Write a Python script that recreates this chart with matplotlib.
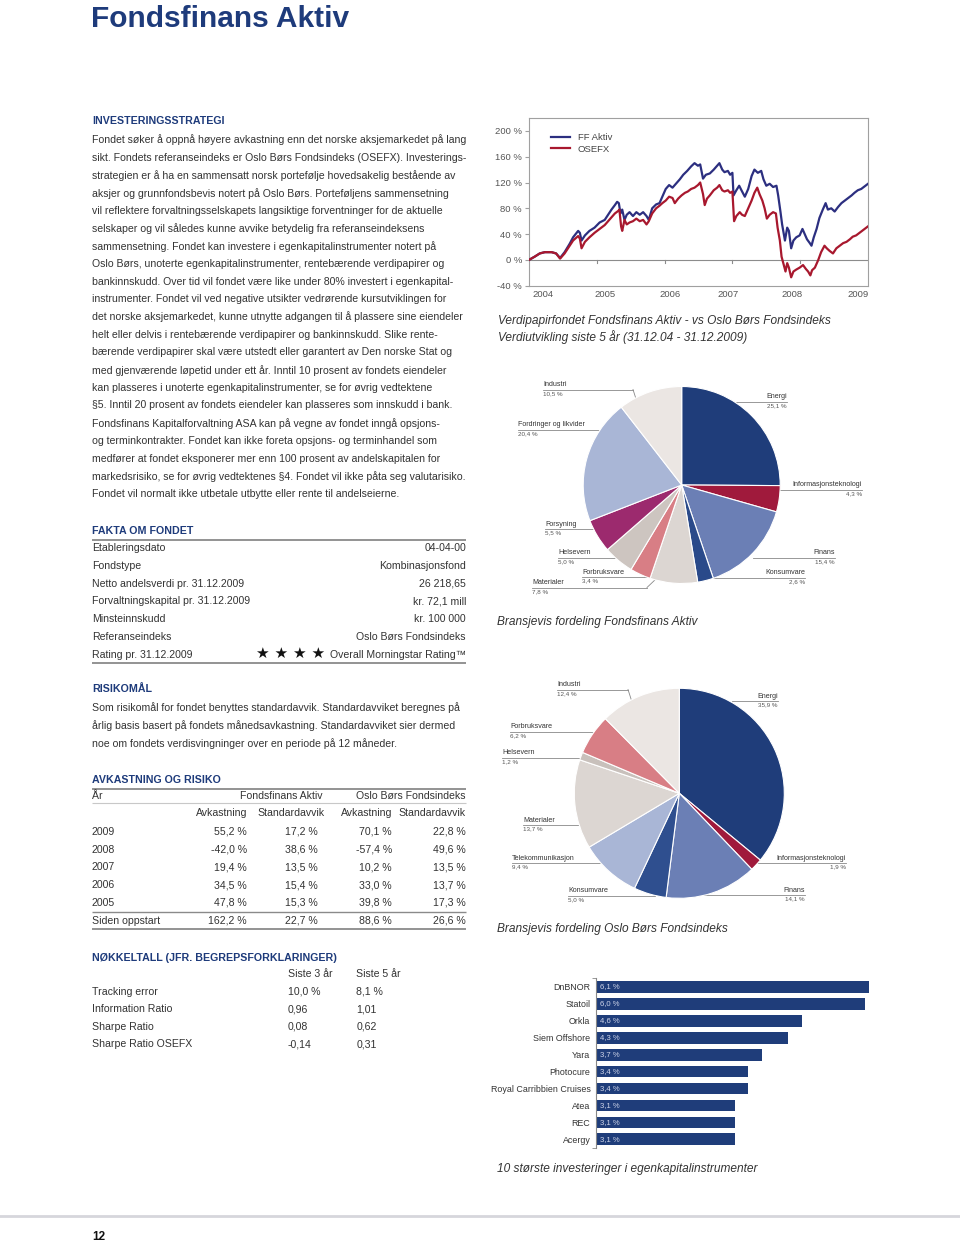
import matplotlib.pyplot as plt

W, H = 960, 1245
plt.rcParams['font.family'] = ['Liberation Sans Narrow', 'Liberation Sans', 'DejaVu Sans']

NAVY = '#1e3b7b'
INK = '#333333'
RULE = '#8a8a8a'
BLUE = '#2c2f80'
RED = '#a8182e'
BAR = '#1f3d7a'
BODY = 7.6
CAPTION = 8.6

# ---------------- data ----------------
strategy_lines = [
    "Fondet søker å oppnå høyere avkastning enn det norske aksjemarkedet på lang",
    "sikt. Fondets referanseindeks er Oslo Børs Fondsindeks (OSEFX). Investerings-",
    "strategien er å ha en sammensatt norsk portefølje hovedsakelig bestående av",
    "aksjer og grunnfondsbevis notert på Oslo Børs. Porteføljens sammensetning",
    "vil reflektere forvaltningsselskapets langsiktige forventninger for de aktuelle",
    "selskaper og vil således kunne avvike betydelig fra referanseindeksens",
    "sammensetning. Fondet kan investere i egenkapitalinstrumenter notert på",
    "Oslo Børs, unoterte egenkapitalinstrumenter, rentebærende verdipapirer og",
    "bankinnskudd. Over tid vil fondet være like under 80% investert i egenkapital-",
    "instrumenter. Fondet vil ved negative utsikter vedrørende kursutviklingen for",
    "det norske aksjemarkedet, kunne utnytte adgangen til å plassere sine eiendeler",
    "helt eller delvis i rentebærende verdipapirer og bankinnskudd. Slike rente-",
    "bærende verdipapirer skal være utstedt eller garantert av Den norske Stat og",
    "med gjenværende løpetid under ett år. Inntil 10 prosent av fondets eiendeler",
    "kan plasseres i unoterte egenkapitalinstrumenter, se for øvrig vedtektene",
    "§5. Inntil 20 prosent av fondets eiendeler kan plasseres som innskudd i bank.",
    "Fondsfinans Kapitalforvaltning ASA kan på vegne av fondet inngå opsjons-",
    "og terminkontrakter. Fondet kan ikke foreta opsjons- og terminhandel som",
    "medfører at fondet eksponerer mer enn 100 prosent av andelskapitalen for",
    "markedsrisiko, se for øvrig vedtektenes §4. Fondet vil ikke påta seg valutarisiko.",
    "Fondet vil normalt ikke utbetale utbytte eller rente til andelseierne.",
]

fakta_labels = ["Etableringsdato", "Fondstype", "Netto andelsverdi pr. 31.12.2009",
                "Forvaltningskapital pr. 31.12.2009", "Minsteinnskudd",
                "Referanseindeks", "Rating pr. 31.12.2009"]
fakta_values = ["04-04-00", "Kombinasjonsfond", "26 218,65", "kr. 72,1 mill",
                "kr. 100 000", "Oslo Børs Fondsindeks", "Overall Morningstar Rating™"]
morningstar_stars = 4

risk_lines = [
    "Som risikomål for fondet benyttes standardavvik. Standardavviket beregnes på",
    "årlig basis basert på fondets månedsavkastning. Standardavviket sier dermed",
    "noe om fondets verdisvingninger over en periode på 12 måneder.",
]

table_years = ["2009", "2008", "2007", "2006", "2005", "Siden oppstart"]
ff_return = [55.2, -42.0, 19.4, 34.5, 47.8, 162.2]
ff_std = [17.2, 38.6, 13.5, 15.4, 15.3, 22.7]
ose_return = [70.1, -57.4, 10.2, 33.0, 39.8, 88.6]
ose_std = [22.8, 49.6, 13.5, 13.7, 17.3, 26.6]

key_labels = ["Tracking error", "Information Ratio", "Sharpe Ratio", "Sharpe Ratio OSEFX"]
key_3y = ["10,0 %", "0,96", "0,08", "-0,14"]
key_5y = ["8,1 %", "1,01", "0,62", "0,31"]

# value development, months after 31.12.04, percent
ff_month = [0.0, 1.0, 1.9, 2.8, 4.0, 4.8, 5.5, 6.3, 7.2, 7.8, 8.7, 9.0, 9.3, 9.9, 10.7,
            11.6, 12.5, 13.4, 14.0, 14.6, 15.2, 15.6, 15.9, 16.2, 16.5, 16.9, 17.3, 17.8,
            18.4, 19.0, 19.6, 20.2, 20.8, 21.2, 21.8, 22.5, 23.1, 23.6, 24.2, 24.8, 25.4,
            26.0, 26.7, 27.3, 28.0, 28.7, 29.3, 29.9, 30.3, 30.8, 31.3, 32.0, 32.7, 33.3,
            33.7, 34.2, 34.6, 35.2, 35.6, 36.0, 36.2, 36.7, 37.2, 37.6, 38.2, 38.8, 39.4,
            39.9, 40.5, 41.1, 41.5, 42.0, 42.6, 43.2, 43.8, 44.1, 44.5, 44.8, 45.3, 45.7,
            46.0, 46.4, 46.8, 47.3, 47.9, 48.4, 48.8, 49.2, 49.7, 50.0, 50.4, 50.9, 51.4,
            52.0, 52.5, 52.9, 53.5, 54.1, 54.7, 55.3, 55.9, 56.5, 57.1, 57.6, 58.2, 58.8,
            59.4, 60.0]
ff_value = [0, 5, 10, 12, 12, 10, 3, 12, 25, 35, 45, 42, 30, 38, 45,
            50, 58, 62, 70, 78, 85, 90, 88, 72, 78, 62, 70, 74,
            68, 74, 70, 74, 68, 62, 80, 86, 88, 98, 110, 116, 112,
            118, 125, 132, 138, 145, 150, 146, 148, 126, 132, 134, 140, 146,
            150, 140, 136, 138, 132, 135, 100, 108, 115, 108, 98, 110, 130,
            140, 135, 138, 125, 115, 118, 113, 115, 100, 75, 55, 30, 50,
            45, 18, 30, 35, 38, 48, 40, 32, 26, 22, 35, 48, 65,
            78, 88, 78, 80, 75, 82, 88, 92, 96, 100, 104, 108, 110,
            114, 118]
ose_month = [0.0, 1.0, 1.9, 2.8, 4.0, 4.8, 5.5, 6.3, 7.2, 7.8, 8.7, 9.0, 9.3, 9.9, 10.7,
             11.6, 12.5, 13.4, 14.0, 14.6, 15.2, 15.8, 16.0, 16.3, 16.5, 16.9, 17.3, 17.8,
             18.4, 19.0, 19.6, 20.2, 20.8, 21.2, 21.8, 22.5, 23.1, 23.6, 24.2, 24.8, 25.4,
             25.8, 26.4, 27.0, 27.6, 28.1, 28.7, 29.3, 29.9, 30.3, 30.8, 31.1, 31.5, 32.0,
             32.7, 33.3, 33.7, 34.2, 34.6, 35.2, 35.6, 36.0, 36.3, 36.7, 37.3, 37.7, 38.2,
             38.8, 39.4, 39.9, 40.4, 40.8, 41.3, 41.7, 42.1, 42.6, 43.2, 43.7, 44.0, 44.4,
             44.7, 45.1, 45.4, 45.7, 46.0, 46.4, 46.8, 47.3, 47.9, 48.5, 49.0, 49.4, 49.8,
             50.1, 50.6, 51.2, 51.7, 52.3, 52.7, 53.2, 53.8, 54.4, 55.0, 55.6, 56.2, 56.8,
             57.3, 57.9, 58.5, 59.1, 60.0]
ose_value = [0, 5, 10, 12, 12, 10, 2, 10, 22, 30, 37, 33, 18, 28, 35,
             42, 48, 54, 60, 66, 72, 76, 78, 52, 45, 62, 55, 58,
             60, 64, 60, 62, 55, 60, 72, 80, 84, 88, 92, 98, 96,
             88, 95, 100, 104, 106, 110, 112, 116, 120, 102, 85, 95, 100,
             108, 112, 116, 108, 106, 108, 104, 106, 60, 68, 74, 70, 68,
             80, 92, 104, 112, 102, 92, 80, 64, 70, 74, 72, 50, 30,
             5, -8, -18, -5, -12, -27, -18, -15, -12, -8, -14, -18, -24,
             -16, -12, 0, 12, 22, 18, 14, 10, 18, 22, 26, 28, 32,
             36, 38, 42, 46, 52]
year_labels = ["2004", "2005", "2006", "2007", "2008", "2009"]
year_label_month = [2.5, 13.4, 24.9, 35.2, 46.5, 58.2]

pie1_labels = ["Energi", "Informasjonsteknologi", "Finans", "Konsumvare", "Materialer",
               "Forbruksvare", "Helsevern", "Forsyning", "Fordringer og likvider", "Industri"]
pie1_values = [25.1, 4.3, 15.4, 2.6, 7.8, 3.4, 5.0, 5.5, 20.4, 10.5]
pie1_colors = ["#1f3d7a", "#a01a3c", "#6b7fb5", "#2a4a8a", "#dcd6d2",
               "#d87e85", "#cdc5c0", "#9c2a6e", "#a9b6d6", "#ebe6e3"]

pie2_labels = ["Energi", "Informasjonsteknologi", "Finans", "Konsumvare", "Telekommunikasjon",
               "Materialer", "Helsevern", "Forbruksvare", "Industri"]
pie2_values = [35.9, 1.9, 14.1, 5.0, 9.4, 13.7, 1.2, 6.2, 12.4]
pie2_colors = ["#1f3d7a", "#a01a3c", "#6b7fb5", "#2f4f8f", "#a9b6d6",
               "#dcd6d2", "#c8c0bb", "#d87e85", "#ebe6e3"]

bar_names = ["DnBNOR", "Statoil", "Orkla", "Siem Offshore", "Yara", "Photocure",
             "Royal Carribbien Cruises", "Atea", "REC", "Acergy"]
bar_values = [6.1, 6.0, 4.6, 4.3, 3.7, 3.4, 3.4, 3.1, 3.1, 3.1]


def pct(v):
    return f"{v:.1f}".replace('.', ',') + " %"


# ---------------- page ----------------
fig = plt.figure(figsize=(9.6, 12.45), dpi=100)
page = fig.add_axes([0, 0, 1, 1])
page.set_xlim(0, W)
page.set_ylim(H, 0)
page.axis('off')


def box(left, top, w, h):
    return [left / W, 1 - (top + h) / H, w / W, h / H]


def txt(x, y, s, size=BODY, color=INK, ha='left', **kw):
    page.text(x, y, s, fontsize=size, color=color, ha=ha, va='center', **kw)


def rule(x0, x1, y, color=RULE, lw=1.0):
    page.plot([x0, x1], [y, y], color=color, lw=lw, solid_capstyle='butt')


def heading(y, s):
    txt(92, y, s, size=7.7, color=NAVY, weight='bold')


page.text(91, 27, "Fondsfinans Aktiv", fontsize=21.5, color=NAVY, weight='bold',
          ha='left', va='baseline')

heading(121, "INVESTERINGSSTRATEGI")
for i, line in enumerate(strategy_lines):
    txt(92, 140 + i * 17.7, line)

# Fakta om fondet
heading(531, "FAKTA OM FONDET")
rule(92, 466, 539.5, lw=1.3)
for i, (lab, val) in enumerate(zip(fakta_labels, fakta_values)):
    y = 548.3 + i * 17.7
    txt(92, y, lab)
    txt(466, y, val, ha='right')
txt(325, 653, " ".join(["★"] * morningstar_stars), size=11, color='#111',
    ha='right', family='DejaVu Sans')
rule(92, 466, 662.7, lw=1.3)

# Risikomål
heading(689, "RISIKOMÅL")
for i, line in enumerate(risk_lines):
    txt(92, 707.3 + i * 18, line)

# Avkastning og risiko
heading(780, "AVKASTNING OG RISIKO")
rule(92, 466, 788.5, lw=1.3)
txt(92, 796, "År")
txt(323, 796, "Fondsfinans Aktiv", ha='right')
txt(466, 796, "Oslo Børs Fondsindeks", ha='right')
rule(92, 466, 803, color='#c8c8c8', lw=0.8)
for xr, s in zip([247, 325, 392, 466], ["Avkastning", "Standardavvik", "Avkastning", "Standardavvik"]):
    txt(xr, 813, s, ha='right')
cols = [ff_return, ff_std, ose_return, ose_std]
col_right = [247, 318, 392, 466]
for i, yr in enumerate(table_years):
    y = 832 + i * 17.7 if i < 5 else 920.5
    txt(92, y, yr)
    for c, xr in zip(cols, col_right):
        txt(xr, y, pct(c[i]), ha='right')
rule(92, 466, 911.7, lw=1.0)
rule(92, 466, 929.3, lw=1.3)

# Nøkkeltall
heading(958, "NØKKELTALL (JFR. BEGREPSFORKLARINGER)")
txt(288, 974, "Siste 3 år")
txt(356.5, 974, "Siste 5 år")
for i, lab in enumerate(key_labels):
    y = 991.7 + i * 17.5
    txt(92, y, lab)
    txt(288, y, key_3y[i])
    txt(356.5, y, key_5y[i])

# footer
page.plot([0, W], [1215.5, 1215.5], color='#d6d6dc', lw=2)
txt(92, 1237, "12", size=8.5, color='#111', weight='bold')

# ---------------- line chart ----------------
lc = fig.add_axes(box(529, 118, 339, 167.7))
lc.plot(ff_month, ff_value, color=BLUE, lw=1.6, label="FF Aktiv", zorder=3)
lc.plot(ose_month, ose_value, color=RED, lw=1.6, label="OSEFX", zorder=3)
lc.set_xlim(0, 60)
lc.set_ylim(-40, 220)
lc.axhline(0, color='#8c8c8c', lw=0.8, zorder=1)
for m in [12, 24, 36, 48]:
    lc.plot([m, m], [0, -5], color='#8c8c8c', lw=0.8, zorder=1)
for sp in lc.spines.values():
    sp.set_color('#a0a0a0')
    sp.set_linewidth(0.8)
lc.set_yticks(range(-40, 201, 40))
lc.set_yticklabels([f"{v} %" for v in range(-40, 201, 40)])
lc.tick_params(axis='y', length=3, color='#a0a0a0', labelsize=6.8, labelcolor='#555', pad=2)
lc.set_xticks(year_label_month)
lc.set_xticklabels(year_labels)
lc.tick_params(axis='x', length=0, labelsize=6.8, labelcolor='#555', pad=3)
lc.legend(loc='upper left', bbox_to_anchor=(0.04, 0.96), frameon=False, fontsize=6.8,
          handlelength=2.0, labelspacing=0.25, labelcolor='#444')

txt(498, 321, "Verdipapirfondet Fondsfinans Aktiv - vs Oslo Børs Fondsindeks", size=CAPTION,
    style='italic')
txt(498, 337, "Verdiutvikling siste 5 år (31.12.04 - 31.12.2009)", size=CAPTION,
    style='italic')


# ---------------- pies ----------------
def draw_pie(cx, cy, r, values, colors):
    pad = 1.03
    ax = fig.add_axes(box(cx - r * pad, cy - r * pad, 2 * r * pad, 2 * r * pad))
    ax.pie(values, colors=colors, startangle=90, counterclock=False, radius=1,
           wedgeprops=dict(edgecolor='white', linewidth=0.8))
    ax.set_xlim(-pad, pad)
    ax.set_ylim(-pad, pad)
    ax.set_aspect('equal')
    ax.axis('off')


def pie_labels(names, values, layout):
    for name, v, (tx, ty, ha, ex, axx, ayy) in zip(names, values, layout):
        ly = ty + 4.5
        page.plot([tx, ex], [ly, ly], color='#888', lw=0.6, zorder=5)
        if (axx, ayy) != (ex, ly):
            page.plot([ex, axx], [ly, ayy], color='#888', lw=0.6, zorder=5)
        txt(tx, ty, name, size=5.1, color='#333', ha=ha)
        txt(tx, ty + 9, pct(v), size=4.5, color='#555', ha=ha)


draw_pie(681.7, 485, 98.5, pie1_values, pie1_colors)
pie1_layout = [
    (787, 397, 'right', 733, 733, 401.5),
    (862, 485, 'right', 779, 779, 489.5),
    (835, 553, 'right', 753, 753, 557.5),
    (805, 573, 'right', 713, 713, 577.5),
    (532, 583, 'left', 647, 657, 578),
    (582, 572, 'left', 650, 650, 576.5),
    (558, 553, 'left', 627, 627, 557.5),
    (545, 524, 'left', 597, 597, 528.5),
    (518, 425, 'left', 607, 607, 429.5),
    (543, 385, 'left', 633, 637, 402),
]
pie_labels(pie1_labels, pie1_values, pie1_layout)
txt(497, 622, "Bransjevis fordeling Fondsfinans Aktiv", size=CAPTION, style='italic')

draw_pie(679.3, 793.3, 105, pie2_values, pie2_colors)
pie2_layout = [
    (778, 696, 'right', 732, 732, 700.5),
    (846, 858, 'right', 755, 755, 862.5),
    (805, 890, 'right', 685, 685, 894.5),
    (568, 891, 'left', 655, 655, 895.5),
    (512, 858, 'left', 608, 608, 862.5),
    (523, 820, 'left', 582, 582, 824.5),
    (502, 753, 'left', 585, 585, 757.5),
    (510, 727, 'left', 605, 605, 731.5),
    (557, 685, 'left', 628, 632, 702),
]
pie_labels(pie2_labels, pie2_values, pie2_layout)
txt(497, 929, "Bransjevis fordeling Oslo Børs Fondsindeks", size=CAPTION, style='italic')

# ---------------- bar chart ----------------
bc = fig.add_axes(box(596, 978.5, 279.7, 169.3))
pos = list(range(len(bar_names)))
bc.barh(pos, bar_values, height=0.69, color=BAR)
bc.set_ylim(len(bar_names) - 0.5, -0.5)
bc.set_xlim(0, 6.25)
for sp in ['top', 'right', 'bottom']:
    bc.spines[sp].set_visible(False)
bc.spines['left'].set_color('#888')
bc.spines['left'].set_linewidth(0.8)
bc.set_xticks([])
bc.set_yticks(pos)
bc.set_yticklabels(bar_names)
bc.tick_params(axis='y', length=0, labelsize=6.4, labelcolor='#333', pad=4)
bc.set_yticks([-0.5, len(bar_names) - 0.5], minor=True)
bc.tick_params(axis='y', which='minor', length=3, color='#888')
for i, v in enumerate(bar_values):
    bc.text(0.08, i, pct(v), color='#d0d6ea', fontsize=5.6, va='center')
txt(497, 1169, "10 største investeringer i egenkapitalinstrumenter", size=CAPTION,
    style='italic')

fig.savefig("out.png", dpi=100)
